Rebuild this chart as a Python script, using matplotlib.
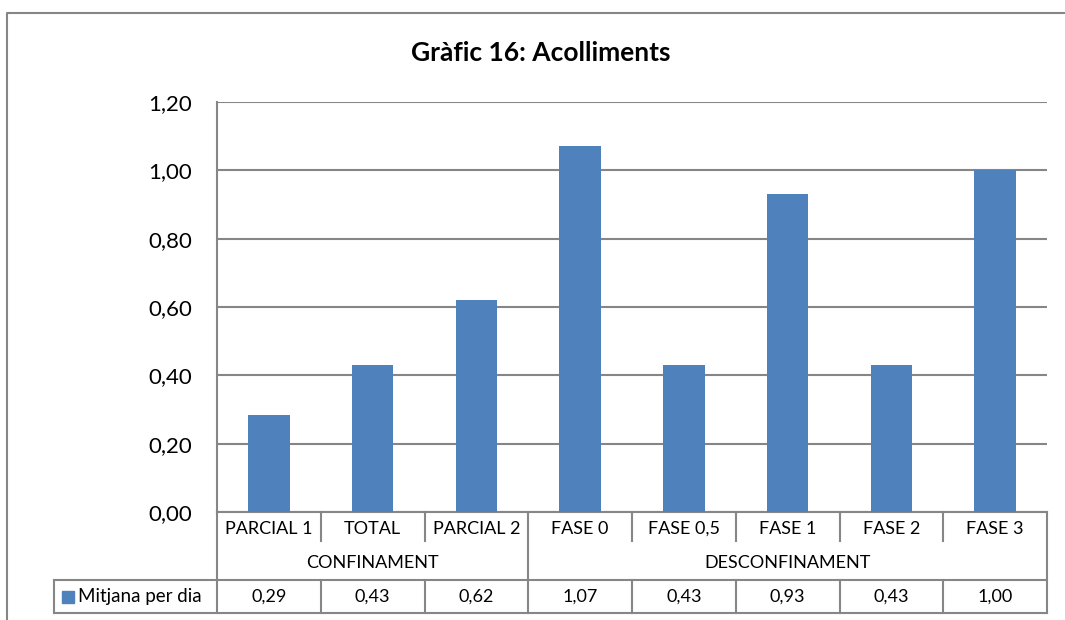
import matplotlib
matplotlib.use("Agg")
import matplotlib.pyplot as plt
from matplotlib.patches import Rectangle
from matplotlib.lines import Line2D

plt.rcParams['font.family'] = ['Lato', 'DejaVu Sans']

# data
categories = ['PARCIAL 1', 'TOTAL', 'PARCIAL 2', 'FASE 0', 'FASE 0,5', 'FASE 1', 'FASE 2', 'FASE 3']
groups = [('CONFINAMENT', 0, 3), ('DESCONFINAMENT', 3, 8)]
values = [0.285, 0.43, 0.62, 1.07, 0.43, 0.93, 0.43, 1.00]
value_labels = ['0,29', '0,43', '0,62', '1,07', '0,43', '0,93', '0,43', '1,00']
series_name = 'Mitjana per dia'
title = 'Gràfic 16: Acolliments'

W, H = 1065, 620
BAR = '#4F81BD'
GRID = '#868686'

fig = plt.figure(figsize=(W / 100, H / 100), dpi=100)

# outer chart frame (cropped on right and bottom)
fig.add_artist(Line2D([7 / W, 7 / W, 1.0], [0, 1 - 13 / H, 1 - 13 / H],
                      transform=fig.transFigure, color=GRID, lw=1.5))

left, right, top, bottom = 217, 1047, 102, 512
ax = fig.add_axes([left / W, 1 - bottom / H, (right - left) / W, (bottom - top) / H])

x = list(range(len(categories)))
ax.bar(x, values, width=0.4, color=BAR, zorder=3)
ax.set_xlim(-0.5, len(categories) - 0.5)
ax.set_ylim(0, 1.2)
yt = [0, 0.2, 0.4, 0.6, 0.8, 1.0, 1.2]
ax.set_yticks(yt)
ax.set_yticklabels([f'{v:.2f}'.replace('.', ',') for v in yt], fontsize=16)
ax.tick_params(axis='y', length=0, pad=18)
ax.set_xticks([])
ax.grid(axis='y', color=GRID, lw=1.5, zorder=0)
for s in ['top', 'right']:
    ax.spines[s].set_visible(False)
ax.spines['left'].set_color(GRID)
ax.spines['left'].set_linewidth(1.5)
ax.spines['bottom'].set_color(GRID)
ax.spines['bottom'].set_linewidth(1.5)

fig.text(541 / W, 1 - 53 / H, title, ha='center', va='center',
         fontsize=19, fontweight='bold')

# data table below the axis
h = bottom - top
r1 = -(545 - bottom) / h
r2 = -(580 - bottom) / h
r3 = -(613 - bottom) / h
tr = ax.get_xaxis_transform()
lk = dict(transform=tr, color=GRID, lw=1.5, clip_on=False)
n = len(categories)
legend_x = -0.5 - (left - 54) / ((right - left) / n)

# vertical lines
for i in range(n + 1):
    xv = i - 0.5
    if i in (0, n):
        ax.add_line(Line2D([xv, xv], [0, r3], **lk))
    elif any(i == g[1] for g in groups):
        ax.add_line(Line2D([xv, xv], [0, r2], **lk))
        ax.add_line(Line2D([xv, xv], [r2, r3], **lk))
    else:
        ax.add_line(Line2D([xv, xv], [0, r1 + 0.01], **lk))
        ax.add_line(Line2D([xv, xv], [r2, r3], **lk))
ax.add_line(Line2D([legend_x, legend_x], [r2, r3], **lk))
ax.add_line(Line2D([legend_x, n - 0.5], [r2, r2], **lk))
ax.add_line(Line2D([legend_x, n - 0.5], [r3, r3], **lk))

tk = dict(transform=tr, ha='center', va='center', fontsize=13, clip_on=False)
for i, c in enumerate(categories):
    ax.text(i, r1 / 2, c, **tk)
    ax.text(i, (r2 + r3) / 2, value_labels[i], **tk)
for name, a, b in groups:
    ax.text((a + b - 1) / 2, (r1 + r2) / 2, name, **tk)

# legend key in the table
unit = (right - left) / n
ax.add_patch(Rectangle((legend_x + 8 / unit, (r2 + r3) / 2 - 6 / h), 12 / unit, 12 / h,
                       transform=tr, color=BAR, clip_on=False))
ax.text(legend_x + 24 / unit, (r2 + r3) / 2, series_name, transform=tr, ha='left',
        va='center', fontsize=13.5, clip_on=False)

fig.savefig('out.png', dpi=100)
